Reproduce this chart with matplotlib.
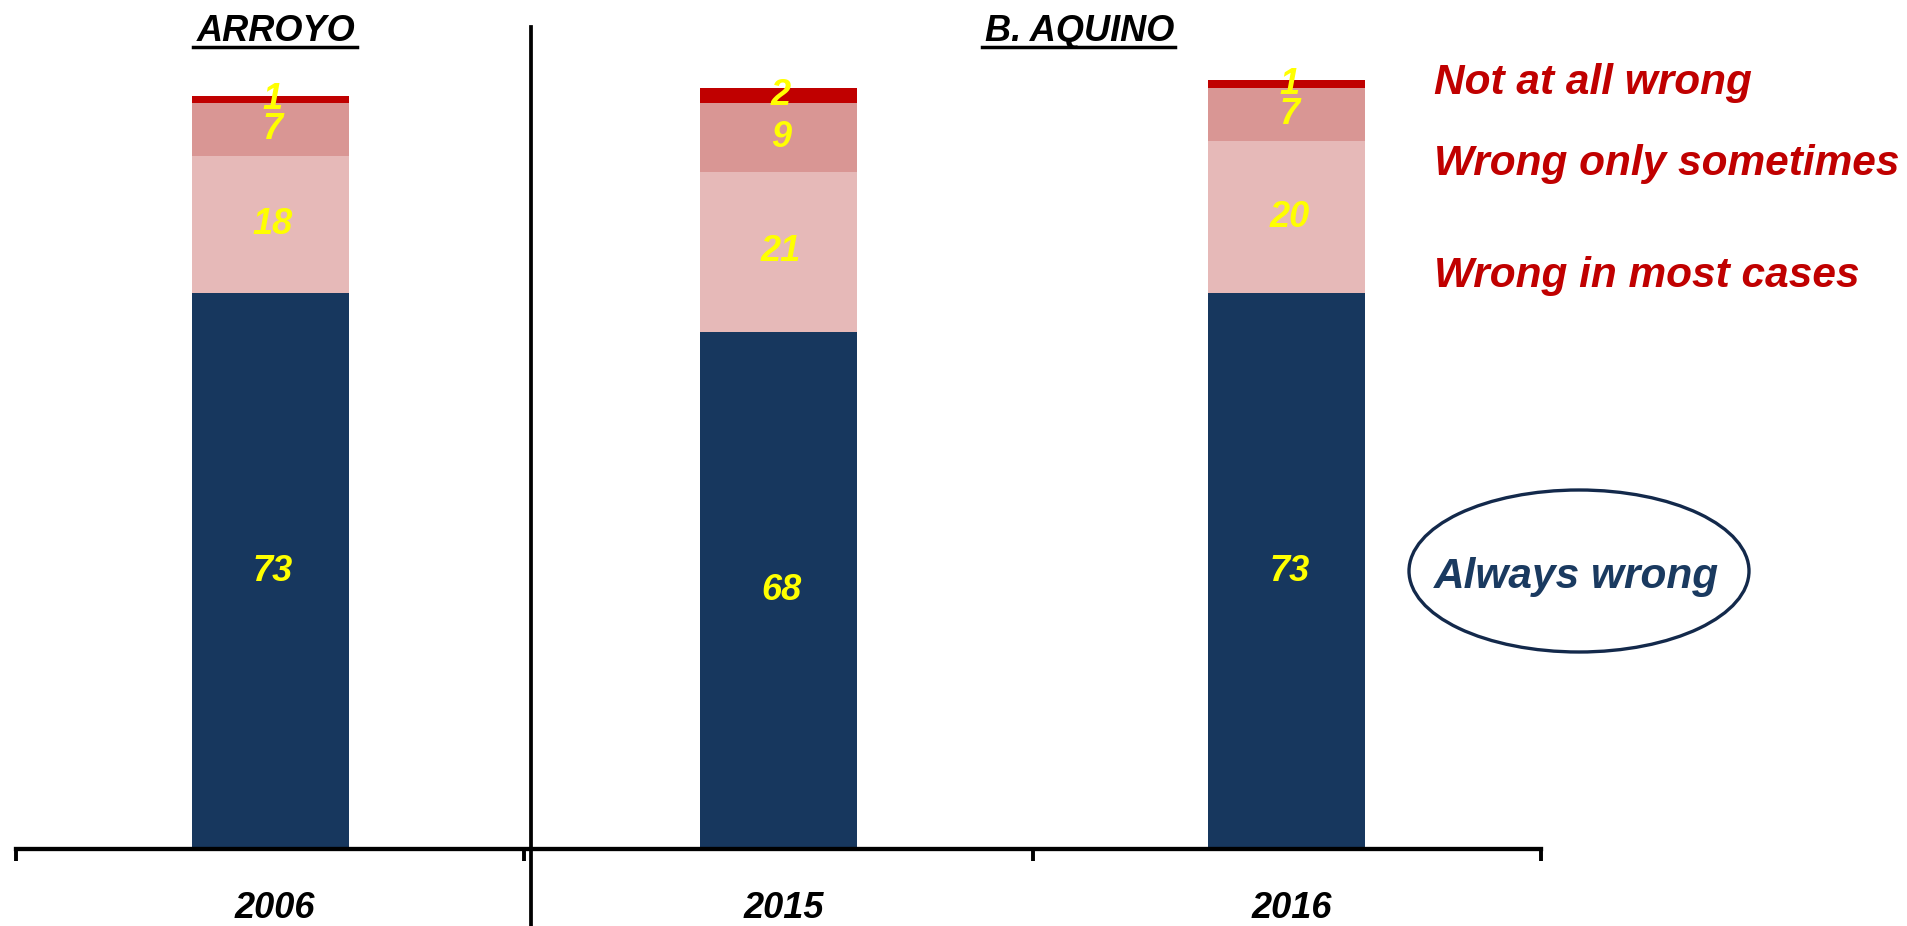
import matplotlib
matplotlib.use("Agg")
import matplotlib.pyplot as plt
from matplotlib.lines import Line2D
from matplotlib.patches import Ellipse
from matplotlib.transforms import blended_transform_factory

# Survey responses (%) by year
years = ["2006", "2015", "2016"]
always_wrong = [73, 68, 73]
most_cases = [18, 21, 20]
only_sometimes = [7, 9, 7]
not_at_all = [1, 2, 1]

series_names = ["Always wrong", "Wrong in most cases", "Wrong only sometimes", "Not at all wrong"]
series_colors = ["#17375E", "#E6B9B8", "#D99694", "#C00000"]
period_titles = ["ARROYO", "B. AQUINO"]

W, H = 1908, 926
fig = plt.figure(figsize=(W / 100, H / 100), dpi=100)
FONT = "Liberation Sans"


def fy(px):
    return 1 - px / H


def fx(px):
    return px / W


# Axes: baseline at y=849 px, 7.61 px per percentage point
ax = fig.add_axes([fx(16), fy(849), fx(1541) - fx(16), 110 * 7.61 / H])
ax.set_xlim(-0.5, 2.5)
ax.set_ylim(0, 110)

x = list(range(len(years)))
bar_w = 0.309
series = [always_wrong, most_cases, only_sometimes, not_at_all]
bottom = [0, 0, 0]
for vals, col in zip(series, series_colors):
    ax.bar(x, vals, bar_w, bottom=bottom, color=col, linewidth=0, zorder=2)
    for xi, v, b in zip(x, vals, bottom):
        ax.text(xi + 0.005, b + v / 2, f"{v}", ha="center", va="center",
                fontsize=26, fontweight="bold", fontstyle="italic",
                color="#FFFF00", family=FONT, zorder=4)
    bottom = [b + v for b, v in zip(bottom, vals)]

# Axis styling: only the bottom line with outward ticks at group boundaries
for s in ["top", "right", "left"]:
    ax.spines[s].set_visible(False)
ax.spines["bottom"].set_linewidth(3.1)
ax.spines["bottom"].set_zorder(3)
ax.set_yticks([])
ax.set_xticks([])
ax.set_xticks([-0.5, 0.5, 1.5, 2.5], minor=True)
ax.tick_params(axis="x", which="minor", direction="out", length=8.5, width=2.8,
               color="black")
ax.set_facecolor("none")

# Year labels below the axis
label_tf = blended_transform_factory(ax.transData, fig.transFigure)
for xi, yr in zip(x, years):
    ax.text(xi + 0.01, fy(918), yr, transform=label_tf,
            ha="center", va="baseline", fontsize=26, fontweight="bold",
            fontstyle="italic", color="black", family=FONT)

# Divider between the two administrations
fig.add_artist(Line2D([fx(531), fx(531)], [fy(27), fy(926)], color="black",
                      linewidth=2.7, transform=fig.transFigure))

# Period titles, underlined
title_specs = [(period_titles[0], 276, 193, 357), (period_titles[1], 1080, 982, 1175)]
for txt, cx, ul0, ul1 in title_specs:
    fig.text(fx(cx), fy(41), txt, ha="center", va="baseline", fontsize=26,
             fontweight="bold", fontstyle="italic", color="black", family=FONT)
    fig.add_artist(Line2D([fx(ul0), fx(ul1)], [fy(47), fy(47)], color="black",
                          linewidth=2.5, transform=fig.transFigure))

# Category labels at right
legend_pos = [(series_names[3], 94), (series_names[2], 175), (series_names[1], 287)]
for txt, base in legend_pos:
    fig.text(fx(1434), fy(base), txt, ha="left", va="baseline", fontsize=30.5,
             fontweight="bold", fontstyle="italic", color="#C00000", family=FONT)

# Circled label for the largest category
fig.add_artist(Ellipse((fx(1579), fy(571)), 340 / W, 162 / H, transform=fig.transFigure,
                       facecolor="none", edgecolor="#13294B", linewidth=2.4))
fig.text(fx(1576), fy(588), series_names[0], ha="center", va="baseline", fontsize=30.5,
         fontweight="bold", fontstyle="italic", color="#1A3A60", family=FONT)

fig.savefig("out.png", dpi=100, facecolor="white")
